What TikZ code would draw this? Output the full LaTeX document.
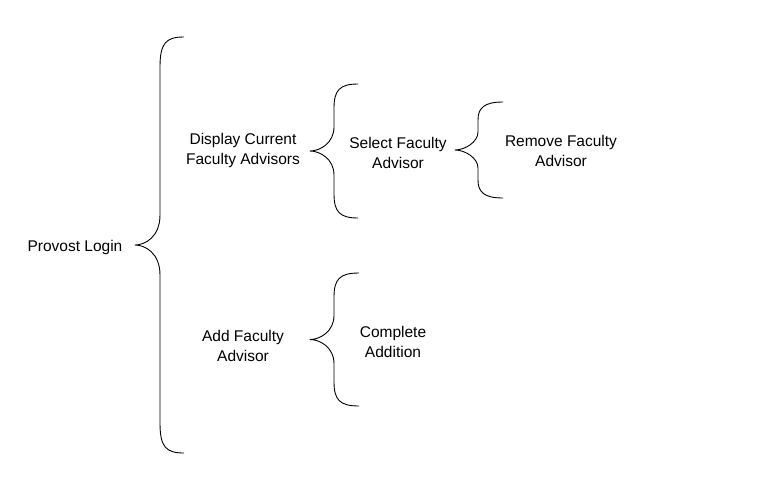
\documentclass[tikz,border=0pt]{standalone}
\usepackage{fontspec}
\setmainfont{Liberation Sans}
\usetikzlibrary{positioning}

\begin{document}
\begin{tikzpicture}[x=1pt,y=-1pt,
    itemtext/.style={align=center,font=\fontsize{15.5}{20}\selectfont,inner sep=0pt},
    bracepath/.style={line width=0.9pt,line join=round}]
  \useasboundingbox (0,0) rectangle (770,498);
  \node[itemtext] (provost) at (75,247) {Provost Login};
  \node[itemtext] (display) at (243,150) {Display Current\\Faculty Advisors};
  \node[itemtext] (select) at (398,153) {Select Faculty\\Advisor};
  \node[itemtext] (remove) at (561,151) {Remove Faculty\\Advisor};
  \node[itemtext] (add) at (243,346) {Add Faculty\\Advisor};
  \node[itemtext] (complete) at (393,342) {Complete\\Addition};
  \foreach \xe/\xv/\xt/\ya/\yb/\r in {184/160/135/37/453/30, 358/334/310/84/218/24, 503/478/455/102/198/18, 359/334/310/273/406/24}{
    \pgfmathsetmacro\ym{(\ya+\yb)/2}
    \draw[bracepath] (\xe,\ya) .. controls (\xv+6,\ya) and (\xv,\ya+6) .. (\xv,\ya+\r)
      -- (\xv,\ym-\r) .. controls (\xv,\ym-8) and (\xt+10,\ym) .. (\xt,\ym)
      .. controls (\xt+10,\ym) and (\xv,\ym+8) .. (\xv,\ym+\r)
      -- (\xv,\yb-\r) .. controls (\xv,\yb-6) and (\xv+6,\yb) .. (\xe,\yb);
  }
\end{tikzpicture}
\end{document}
